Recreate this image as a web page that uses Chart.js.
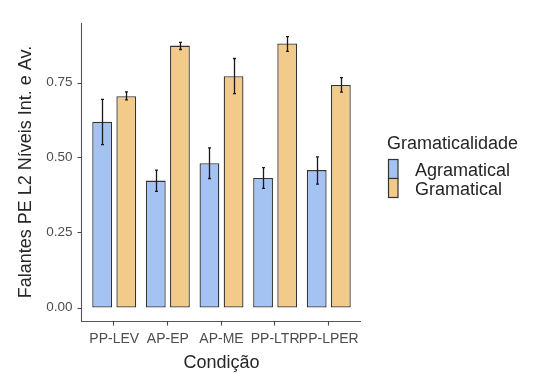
<!DOCTYPE html>
<html><head><meta charset="utf-8">
<script src="https://cdn.jsdelivr.net/npm/chart.js@4"></script>
<style>html,body{margin:0;padding:0;background:#fff}#wrap{width:536px;height:374px;position:relative}</style>
</head><body><div id="wrap"><canvas id="c" width="536" height="374"></canvas></div>
<script>
const categories = ["PP-LEV", "AP-EP", "AP-ME", "PP-LTR", "PP-LPER"];
const seriesNames = ["Agramatical", "Gramatical"];
const agramatical = [0.619, 0.423, 0.481, 0.432, 0.458];
const agramaticalLow = [0.543, 0.387, 0.430, 0.397, 0.411];
const agramaticalHigh = [0.694, 0.458, 0.532, 0.466, 0.502];
const gramatical = [0.704, 0.873, 0.771, 0.880, 0.742];
const gramaticalLow = [0.692, 0.860, 0.713, 0.854, 0.718];
const gramaticalHigh = [0.719, 0.884, 0.830, 0.903, 0.766];
const yTicks = [0, 0.25, 0.5, 0.75];
const legendTitle = "Gramaticalidade";
const xTitle = "Condição";
const yTitle = "Falantes PE L2 Níveis Int. e Av.";

const FONT = "'Liberation Sans', Arial, sans-serif";
const colors = ["#a4c2f2", "#f2cb8a"];
const errLow = [agramaticalLow, gramaticalLow];
const errHigh = [agramaticalHigh, gramaticalHigh];

const overlay = {
  id: 'overlay',
  afterDatasetsDraw(chart) {
    const ctx = chart.ctx, y = chart.scales.y, x = chart.scales.x;
    ctx.save();
    // error bars
    ctx.strokeStyle = '#1a1a1a';
    ctx.lineWidth = 1.3;
    chart.data.datasets.forEach((ds, di) => {
      const meta = chart.getDatasetMeta(di);
      meta.data.forEach((bar, i) => {
        const yl = y.getPixelForValue(errLow[di][i]);
        const yh = y.getPixelForValue(errHigh[di][i]);
        const cx = Math.round(bar.x) + 0.5;
        ctx.beginPath();
        ctx.moveTo(cx, yl); ctx.lineTo(cx, yh);
        ctx.moveTo(cx - 1.5, yl); ctx.lineTo(cx + 1.5, yl);
        ctx.moveTo(cx - 1.5, yh); ctx.lineTo(cx + 1.5, yh);
        ctx.stroke();
      });
    });
    // axis lines
    const ca = chart.chartArea;
    const axX = 81.5, axY = 321.5;
    ctx.strokeStyle = '#555';
    ctx.lineWidth = 1.1;
    ctx.beginPath();
    ctx.moveTo(axX, ca.top); ctx.lineTo(axX, axY);
    ctx.lineTo(361, axY);
    ctx.stroke();
    ctx.strokeStyle = '#444';
    ctx.beginPath();
    yTicks.forEach(v => {
      const py = Math.round(y.getPixelForValue(v)) + 0.5;
      ctx.moveTo(axX - 4, py); ctx.lineTo(axX, py);
    });
    categories.forEach((c, i) => {
      const px = Math.round(x.getPixelForValue(i)) - 0.5;
      ctx.moveTo(px, axY); ctx.lineTo(px, axY + 4);
    });
    ctx.stroke();
    // legend
    ctx.fillStyle = '#262626';
    ctx.font = '18px ' + FONT;
    ctx.textBaseline = 'middle';
    ctx.textAlign = 'left';
    ctx.fillText(legendTitle, 387, 144);
    const boxTop = [159, 178];
    seriesNames.forEach((n, i) => {
      ctx.fillStyle = colors[i];
      ctx.fillRect(388.5, boxTop[i] + 0.5, 9.5, 19);
      ctx.strokeStyle = '#333';
      ctx.lineWidth = 1.2;
      ctx.strokeRect(388.5, boxTop[i] + 0.5, 9.5, 19);
      ctx.fillStyle = '#262626';
      ctx.fillText(n, 415, boxTop[i] + 12);
    });
    ctx.restore();
  }
};

new Chart(document.getElementById('c'), {
  type: 'bar',
  data: {
    labels: categories,
    datasets: [
      { label: seriesNames[0], data: agramatical, backgroundColor: colors[0], borderColor: '#333', borderWidth: 1.3, borderSkipped: false },
      { label: seriesNames[1], data: gramatical, backgroundColor: colors[1], borderColor: '#333', borderWidth: 1.3, borderSkipped: false }
    ]
  },
  options: {
    responsive: false,
    animation: false,
    devicePixelRatio: 1,
    categoryPercentage: 0.9,
    barPercentage: 0.82,
    layout: { padding: { left: 0, right: 180.4, top: 11, bottom: 0 } },
    plugins: { legend: { display: false }, tooltip: { enabled: false } },
    scales: {
      x: {
        grid: { display: false, drawTicks: false },
        border: { display: false },
        ticks: { color: '#4d4d4d', font: { family: FONT, size: 14 }, padding: 10, maxRotation: 0, autoSkip: false },
        title: { display: true, text: xTitle, color: '#262626', font: { family: FONT, size: 18 }, padding: { top: 0, bottom: 0 } },
        afterFit(s) { s.height = 53; }
      },
      y: {
        min: -0.045, max: 0.948,
        grid: { display: false, drawTicks: false },
        border: { display: false },
        afterBuildTicks(s) { s.ticks = yTicks.map(v => ({ value: v })); },
        ticks: { color: '#4d4d4d', font: { family: FONT, size: 13.5 }, padding: 15, callback: v => Number(v).toFixed(2) },
        title: { display: true, text: yTitle, color: '#262626', font: { family: FONT, size: 18 }, padding: { top: 15, bottom: 0 } },
        afterFit(s) { s.width = 87.4; }
      }
    }
  },
  plugins: [overlay]
});
</script></body></html>
